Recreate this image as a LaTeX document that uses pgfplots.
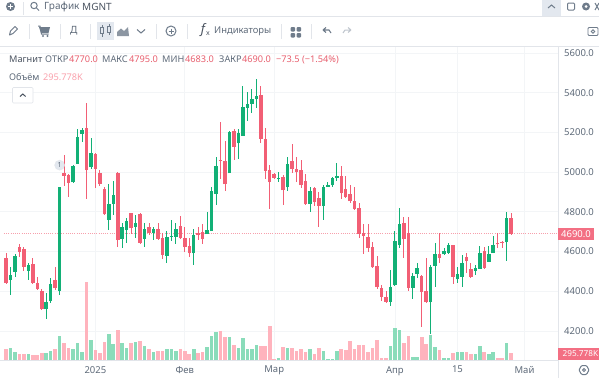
\documentclass[border=0pt]{standalone}
\usepackage{pgfplots}
\usepackage{pgfplotstable}
\usepackage{fontspec}
\setmainfont{Noto Sans}
\pgfplotsset{compat=1.18}
\definecolor{cg}{HTML}{12B076}
\definecolor{cr}{HTML}{F25F75}
\definecolor{vg}{HTML}{8ADCBA}
\definecolor{vr}{HTML}{FFB3BD}
\definecolor{txt}{HTML}{5F6B7A}
\definecolor{dk}{HTML}{4A5360}
\definecolor{rd}{HTML}{E8606F}
\definecolor{grd}{HTML}{F3F5F7}
\definecolor{ln}{HTML}{E2E5EA}
\definecolor{ic}{HTML}{6F7C8B}
\definecolor{hl}{HTML}{E3E8EF}
\pgfplotstableread{
i o h l c v
0 4566 4594 4436 4443 451
3 4624 4638 4574 4597 239
4 4613 4621 4504 4524 239
6 4535 4566 4436 4443 225
7 4440 4470 4406 4411 211
8 4403 4409 4305 4309 296
11 4457 4524 4406 4415 451
13 4994 5086 4930 4982 704
14 4984 4990 4873 4947 493
18 5221 5350 4866 5011 3309
20 5091 5098 4918 5016 436
21 4994 5011 4930 4940 296
22 4913 4923 4784 4787 774
25 4997 4999 4624 4658 1281
28 4792 4792 4688 4717 704
30 4787 4792 4641 4645 817
32 4722 4745 4683 4695 451
34 4715 4745 4658 4665 366
35 4670 4695 4561 4584 394
39 4730 4779 4661 4666 451
40 4666 4725 4596 4624 394
41 4628 4666 4574 4591 239
43 4692 4722 4658 4683 296
44 4700 4739 4638 4663 324
48 5061 5254 4965 5056 1225
49 5058 5158 4907 4939 957
51 5206 5216 5061 5127 648
57 5389 5436 5145 5167 577
58 5167 5221 4964 5007 577
59 5009 5036 4813 4950 1436
60 4991 4994 4969 4972 42
62 4974 4986 4834 4908 563
64 5054 5142 4997 5017 521
65 5016 5074 4952 4999 394
66 5011 5061 4918 4935 479
67 4955 4990 4838 4839 352
69 4920 4927 4829 4851 268
70 4868 4901 4725 4831 521
75 4982 5032 4863 4893 451
76 4913 4980 4868 4876 422
77 4891 4935 4843 4854 803
78 4853 4927 4809 4814 451
79 4819 4846 4670 4688 620
80 4692 4739 4588 4680 620
81 4673 4739 4599 4619 352
82 4621 4650 4515 4520 521
83 4527 4579 4410 4423 831
84 4415 4431 4352 4373 99
85 4373 4403 4346 4347 70
89 4742 4776 4566 4661 704
90 4692 4772 4403 4418 1000
93 4477 4482 4218 4398 957
94 4403 4566 4339 4344 676
97 4586 4692 4541 4569 436
100 4633 4633 4435 4473 296
103 4571 4594 4490 4552 324
104 4510 4541 4465 4473 268
107 4603 4624 4510 4515 352
110 4643 4692 4618 4636 99
111 4646 4653 4616 4643 70
113 4770 4795 4683 4690 296
}\redT
\pgfplotstableread{
i o h l c v
1 4457 4524 4381 4482 521
2 4498 4587 4473 4579 324
5 4504 4540 4457 4532 239
9 4309 4389 4262 4344 296
10 4352 4465 4339 4435 394
12 4401 4927 4381 4923 1000
15 4948 5036 4943 5032 451
16 5041 5215 5039 5179 732
17 5194 5221 5153 5212 324
19 5024 5170 5014 5095 831
23 4759 4940 4708 4839 1084
24 4841 4957 4784 4885 676
26 4665 4745 4616 4722 704
27 4708 4767 4641 4755 521
29 4725 4784 4666 4745 774
31 4665 4742 4621 4712 577
33 4695 4725 4658 4714 324
36 4578 4705 4544 4675 479
37 4677 4759 4651 4680 465
38 4675 4742 4636 4712 394
42 4591 4712 4532 4682 451
45 4688 4797 4687 4708 549
46 4703 4923 4702 4905 1000
47 4890 5074 4834 5033 1169
50 4994 5209 4994 5202 957
52 5145 5216 5064 5197 493
53 5184 5436 5182 5330 929
54 5325 5405 5259 5343 451
55 5345 5419 5296 5367 479
56 5367 5469 5321 5385 620
61 4964 4999 4952 4970 70
63 4923 5074 4907 5039 521
68 4839 4927 4801 4905 451
71 4831 4935 4759 4925 394
72 4927 4952 4927 4935 56
73 4933 4977 4927 4970 56
74 4969 5048 4957 4980 394
86 4347 4507 4326 4421 577
87 4430 4705 4428 4651 1366
88 4633 4818 4616 4739 1253
91 4418 4490 4359 4477 141
92 4487 4541 4465 4517 141
95 4344 4532 4184 4520 1042
96 4529 4645 4423 4586 549
98 4586 4616 4582 4603 70
99 4594 4641 4588 4631 70
101 4460 4520 4440 4485 324
102 4473 4582 4420 4544 324
105 4504 4532 4482 4517 268
106 4514 4629 4510 4594 577
108 4549 4628 4546 4588 268
109 4592 4678 4591 4631 352
112 4646 4801 4554 4767 732
}\greenT
\newcommand{\fs}[1]{\fontsize{#1}{#1}\selectfont}
\newcommand{\T}[5]{\node[anchor=west,inner sep=0pt,text=#4] at (#1,#2) {\fs{#3}#5};}
\newcommand{\wicks}[2]{\addplot[forget plot,draw=none,no markers,
  error bars/.cd,y dir=both,y explicit,error mark=none,
  error bar style={draw=#2,line width=.85pt}]
  table[x=i,y=c,y error plus expr=\thisrow{h}-\thisrow{c},y error minus expr=\thisrow{c}-\thisrow{l}] {#1};}
\newcommand{\bodyG}[1]{\addplot[forget plot,draw=none,no markers,
  error bars/.cd,y dir=plus,y explicit,error mark=none,
  error bar style={draw=cg,line width=3.5pt}]
  table[x=i,y=o,y error plus expr=\thisrow{c}-\thisrow{o}] {#1};}
\newcommand{\bodyR}[1]{\addplot[forget plot,draw=none,no markers,
  error bars/.cd,y dir=plus,y explicit,error mark=none,
  error bar style={draw=cr,line width=3.5pt}]
  table[x=i,y=c,y error plus expr=\thisrow{o}-\thisrow{c}] {#1};}
\begin{document}
\begin{tikzpicture}[x=1pt,y=-1pt]
\path[use as bounding box,fill=white] (0,0) rectangle (599,378);
% toolbar rules and dividers
\draw[ln,line width=.7pt] (0,16.5)--(599,16.5);
\draw[ln,line width=.7pt] (0,46.5)--(599,46.5);
\foreach \x in {29,60,90,156,187,281,311}\draw[ln,line width=.7pt] (\x,24)--(\x,39);
\draw[ln,line width=.7pt] (23,2)--(23,15);
\fill[hl] (97,22) rectangle (114,40);
\fill[hl] (542,0) rectangle (561,16);
% top row
\fill[ic] (10.5,6.5) circle (4.5);
\draw[white,line width=1pt] (8,6.5)--(13,6.5) (10.5,4)--(10.5,9);
\draw[ic,line width=1pt] (34,5.5) circle (3.2) (36.3,7.8)--(39,10.5);
\T{44}{7}{10}{txt}{График}
\T{82}{7}{10}{dk}{MGNT}
\draw[ic,line width=1pt] (548,8)--(551.5,5)--(555,8);
\draw[ic,line width=1pt,rounded corners=1pt] (567.5,3)rectangle(574.5,10);
\fill[ic] (586,6.5) circle (4); \fill[white] (586,6.5) circle (1.5);
\draw[ic,line width=1pt] (595,3)--(599,10) (599,3)--(595,10);
% second row icons
\draw[ic,line width=1pt,line join=round] (9.5,35)--(10.5,31)--(15,26.5)--(17.5,29)--(13,33.5)--cycle;
\fill[ic] (39,27)--(50,27)--(48.5,33)--(41,33)--cycle;
\draw[ic,line width=1pt] (38,26)--(40,26)--(41.5,34)--(48.5,34);
\fill[ic] (43,36) circle (1.2) (47.5,36) circle (1.2);
\T{70}{31}{10}{txt}{Д}
\draw[ic,line width=.9pt] (102,25)--(102,37) (109,24)--(109,35);
\fill[hl] (100.5,27.5) rectangle (103.5,33);
\draw[ic,line width=.9pt] (100.5,27.5) rectangle (103.5,33);
\fill[hl] (107.5,26.5) rectangle (110.5,32);
\draw[ic,line width=.9pt] (107.5,26.5) rectangle (110.5,32);
\fill[ic!80] (117,36)--(117,32)--(121,28.5)--(124,31)--(128,27)--(129,36)--cycle;
\draw[ic,line width=1pt] (137,29.5)--(141,33)--(145,29.5);
\draw[ic,line width=1pt] (171,31) circle (5);
\draw[ic,line width=1pt] (168.5,31)--(173.5,31) (171,28.5)--(171,33.5);
\node[text=dk,inner sep=0pt] at (203,30.5) {\fs{13}\itshape f};
\node[text=dk,inner sep=0pt] at (208,34) {\fs{7}x};
\T{214}{31}{9.4}{txt}{Индикаторы}
\foreach \a/\b in {290.5/27,296.5/27,290.5/33,296.5/33}\fill[ic,rounded corners=1pt] (\a,\b) rectangle ++(4.5,4.5);
\draw[ic,line width=1.1pt] (323,30)--(326,27.5) (323,30)--(326,32.5) (323,30)--(329,30)--(331,33);
\draw[ln!70!ic,line width=1pt] (351,30)--(348,27.5) (351,30)--(348,32.5) (351,30)--(345,30)--(343,33);
\draw[ic,line width=.9pt,rounded corners=1pt] (588,27.5) rectangle (598,35.5);
\draw[ic,line width=.9pt] (593,31.5) circle (1.8);
% axes
\begin{axis}[name=pr,at={(0pt,-360pt)},anchor=south west,scale only axis,
  width=558pt,height=313pt,
  xmin=-1.342,xmax=123.49,ymin=4053.4,ymax=5630.2,
  axis x line*=bottom,axis y line*=right,
  axis line style={draw=ln,line width=.7pt,-},
  xtick={20,40,60,87,101,116},
  xticklabels={2025,Фев,Мар,Апр,15,Май},
  ytick={4200,4400,4600,4800,5000,5200,5400,5600},
  major tick length=0pt,
  grid=major,grid style={draw=grd,line width=.7pt},
  y tick label style={/pgf/number format/fixed,/pgf/number format/fixed zerofill,
    /pgf/number format/precision=1,/pgf/number format/1000 sep={},
    /pgf/number format/assume math mode=true,font=\fs{9.5},text=txt,inner sep=0pt,xshift=6pt},
  x tick label style={font=\fs{9.5},text=txt,inner sep=0pt,yshift=-6pt},
  clip=true]
\addplot[forget plot,draw=cr!60,line width=.6pt,dash pattern=on 1pt off 1.2pt] coordinates {(-0.45,4690) (123.49,4690)};
\wicks{\greenT}{cg}
\wicks{\redT}{cr}
\bodyG{\greenT}
\bodyR{\redT}
\node[circle,fill=hl,draw=ln,inner sep=0pt,minimum size=10pt,text=txt] at (axis cs:12,5035) {\fs{7}1};
\end{axis}
\begin{axis}[at={(0pt,-360pt)},anchor=south west,scale only axis,
  width=558pt,height=313pt,hide axis,
  xmin=-1.342,xmax=123.49,ymin=0,ymax=13224,clip=true]
\addplot[forget plot,ycomb,draw=vg,line width=3.6pt,mark=none] table[x=i,y=v] {\greenT};
\addplot[forget plot,ycomb,draw=vr,line width=3.6pt,mark=none] table[x=i,y=v] {\redT};
\end{axis}
% right axis extension and boxes
\draw[ln,line width=.7pt] (558,360)--(558,378);
\fill[cr!90] (558,227.7) rectangle (594,240);
\node[text=white,inner sep=0pt] at (576,234) {\fs{9.5}\bfseries 4690.0};
\fill[cr!90] (558,347.7) rectangle (599,359.5);
\node[text=white,anchor=west,inner sep=0pt] at (562.5,353.7) {\fs{8.2}\bfseries 295.778K};
\draw[ic,line width=1pt,rounded corners=1pt] (579,370)--(581.5,365.5)--(586.5,365.5)--(589,370)--(586.5,374.5)--(581.5,374.5)--cycle;
\draw[ic,line width=.9pt] (584,370) circle (1.4);
% legend
\T{9}{59.5}{9.2}{dk}{\bfseries Магнит}
\T{45}{59.5}{9.2}{txt}{ОТКР}
\T{69}{59.5}{9.2}{rd}{4770.0}
\T{102}{59.5}{9.2}{txt}{МАКС}
\T{129}{59.5}{9.2}{rd}{4795.0}
\T{162}{59.5}{9.2}{txt}{МИН}
\T{185}{59.5}{9.2}{rd}{4683.0}
\T{219}{59.5}{9.2}{txt}{ЗАКР}
\T{242}{59.5}{9.2}{rd}{4690.0}
\T{276}{59.5}{9.2}{rd}{−73.5 (−1.54\%)}
\T{9}{77}{9.2}{txt}{Объём}
\T{43}{77}{9.2}{vr!80!rd}{295.778K}
\draw[ln,line width=.7pt,fill=white,rounded corners=1pt] (12.5,87.5) rectangle (33,103);
\draw[dk,line width=1pt] (20,96.5)--(22.8,94)--(25.6,96.5);
\end{tikzpicture}
\end{document}
